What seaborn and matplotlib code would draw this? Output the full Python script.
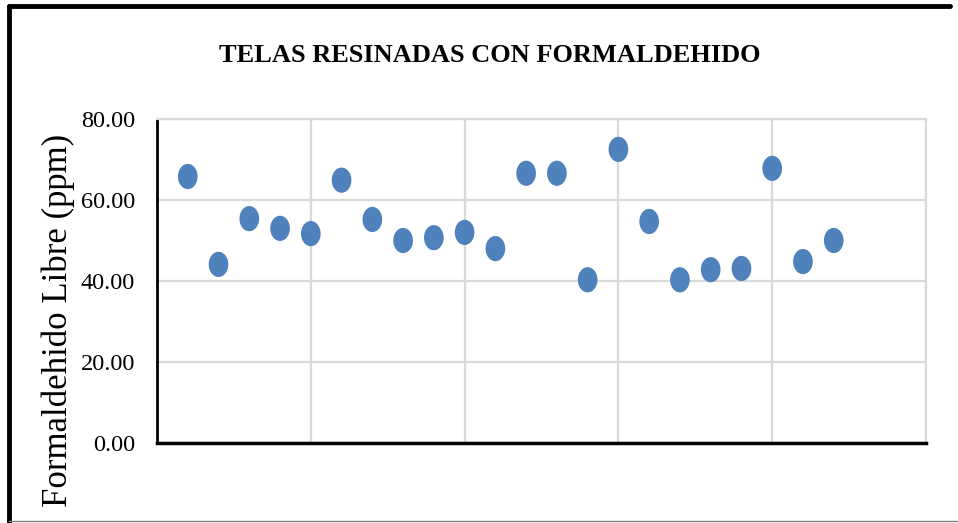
import matplotlib
matplotlib.use("Agg")
import matplotlib.pyplot as plt
import seaborn as sns
import numpy as np
import pandas as pd
from matplotlib.path import Path
from matplotlib.ticker import FormatStrFormatter, MultipleLocator

# data (sample number vs free formaldehyde in ppm)
muestras = list(range(1, 23))
formaldehido = [65.8, 44.1, 55.4, 53.0, 51.7, 64.9, 55.2, 50.0, 50.7, 52.0, 48.0,
                66.6, 66.6, 40.3, 72.5, 54.7, 40.3, 42.8, 43.1, 67.8, 44.8, 50.0]

titulo = "TELAS RESINADAS CON FORMALDEHIDO"
etiqueta_y = "Formaldehido Libre (ppm)"

df = pd.DataFrame({"muestra": muestras, "ppm": formaldehido})

sns.set_style("whitegrid")
plt.rcParams["font.family"] = ["Liberation Serif", "DejaVu Serif"]
plt.rcParams["text.color"] = "black"

# slightly tall ellipse like the Excel markers
t = np.linspace(0, 2 * np.pi, 40)
ellipse = Path(np.column_stack([0.78 * np.cos(t), np.sin(t)]))

fig = plt.figure(figsize=(9.58, 5.23), dpi=100)
ax = fig.add_axes([157 / 958, 1 - 443 / 523, (926 - 157) / 958, (443 - 119) / 523])

sns.scatterplot(data=df, x="muestra", y="ppm", ax=ax, color="#4f81bd",
                marker=ellipse, s=330, edgecolor="none", zorder=3)

ax.set_xlim(0, 25)
ax.set_ylim(0, 80)
ax.xaxis.set_major_locator(MultipleLocator(5))
ax.yaxis.set_major_locator(MultipleLocator(20))
ax.yaxis.set_major_formatter(FormatStrFormatter("%.2f"))
ax.tick_params(axis="x", labelbottom=False, length=0)
ax.tick_params(axis="y", labelsize=17.5, length=0, pad=16, colors="black")
ax.grid(True, color="#d9d9d9", linewidth=1.6)
ax.set_xlabel("")
ax.set_ylabel("")

for side in ["top", "right"]:
    ax.spines[side].set_color("#d9d9d9")
    ax.spines[side].set_linewidth(1.6)
ax.spines["left"].set_color("black")
ax.spines["left"].set_linewidth(2)
ax.spines["bottom"].set_color("black")
ax.spines["bottom"].set_linewidth(2.5)

fig.text(490 / 958, 1 - 55 / 523, titulo, ha="center", va="center",
         fontsize=19, fontweight="bold", color="black")
fig.text(58 / 958, 1 - 320 / 523, etiqueta_y, ha="center", va="center",
         rotation=90, fontsize=25, color="black")

# outer frame of the clipped chart image
fig.add_artist(plt.Line2D([9 / 958, 950 / 958], [1 - 6 / 523] * 2, color="black", lw=3.5))
fig.add_artist(plt.Line2D([9 / 958] * 2, [0, 1 - 6 / 523], color="black", lw=3.5))
fig.add_artist(plt.Line2D([9 / 958, 1], [1 - 521 / 523] * 2, color="#808080", lw=1))

fig.savefig("out.png", dpi=100)
